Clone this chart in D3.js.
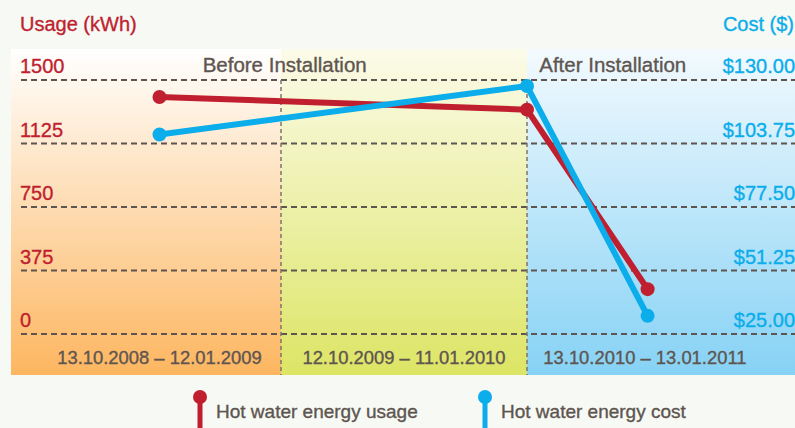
<!DOCTYPE html>
<html>
<head>
<meta charset="utf-8">
<script src="https://cdn.jsdelivr.net/npm/d3@7"></script>
<style>
body { margin: 0; background: #f7f9f4; }
svg { display: block; font-family: "Liberation Sans", Arial, sans-serif; }
svg text { paint-order: stroke; stroke-width: 0.35px; }
</style>
</head>
<body>
<script>
// periods (x positions in panel units: panel i spans i..i+1)
var periods = ["13.10.2008 \u2013 12.01.2009", "12.10.2009 \u2013 11.01.2010", "13.10.2010 \u2013 13.01.2011"];
var periodPos = [0.55, 1.5, 2.44];
var pointPos = [0.55, 2, 2.45];
var usage = [1400, 1325, 265];
var cost = [107.5, 127.5, 32.5];
var usageTicks = [0, 375, 750, 1125, 1500];
var costTicks = [25, 51.25, 77.5, 103.75, 130];
var phases = ["Before Installation", "After Installation"];
var phasePos = [1.015, 2.32];

var W = 795, H = 428;
var red = "#c01f2f", blue = "#0badea", grey = "#5e5550";

var svg = d3.select("body").append("svg").attr("width", W).attr("height", H);

var x = d3.scaleLinear().domain([0, 1, 2, 3]).range([11, 281, 527, 795]);
var yU = d3.scaleLinear().domain([0, 1500]).range([334, 80]);
var yC = d3.scaleLinear().domain([25, 130]).range([334, 80]);
var panelTop = 49, panelBottom = 375;

var defs = svg.append("defs");
var grads = [["#ffffff", "#fdb660"], ["#fbfbe9", "#dde565"], ["#f3fafe", "#86d2f5"]];
grads.forEach(function(g, i) {
  var lg = defs.append("linearGradient").attr("id", "g" + i)
    .attr("x1", 0).attr("y1", 0).attr("x2", 0).attr("y2", 1);
  lg.append("stop").attr("offset", "0%").attr("stop-color", g[0]);
  lg.append("stop").attr("offset", "100%").attr("stop-color", g[1]);
});

svg.selectAll("rect.panel").data([0, 1, 2]).enter().append("rect")
  .attr("x", function(d) { return x(d); })
  .attr("y", panelTop)
  .attr("width", function(d) { return x(d + 1) - x(d); })
  .attr("height", panelBottom - panelTop)
  .attr("fill", function(d) { return "url(#g" + d + ")"; });

// horizontal grid
svg.selectAll("line.grid").data(usageTicks).enter().append("line")
  .attr("x1", 21).attr("x2", W)
  .attr("y1", function(d) { return yU(d); })
  .attr("y2", function(d) { return yU(d); })
  .attr("stroke", grey).attr("stroke-width", 2).attr("stroke-dasharray", "6,4");

// vertical separators
svg.selectAll("line.sep").data([1, 2]).enter().append("line")
  .attr("x1", function(d) { return x(d); }).attr("x2", function(d) { return x(d); })
  .attr("y1", yU(1500)).attr("y2", panelBottom)
  .attr("stroke", "#7d746c").attr("stroke-width", 1.5).attr("stroke-dasharray", "4,3");

// axis titles
svg.append("text").attr("x", 20).attr("y", 31).attr("fill", red).attr("stroke", red)
  .attr("font-size", 20).text("Usage (kWh)");
svg.append("text").attr("x", 794).attr("y", 31).attr("fill", blue).attr("stroke", blue)
  .attr("font-size", 20).attr("text-anchor", "end").text("Cost ($)");

// tick labels
svg.selectAll("text.tu").data(usageTicks).enter().append("text")
  .attr("x", 20).attr("y", function(d) { return yU(d) - 7; })
  .attr("fill", red).attr("stroke", red).attr("font-size", 20)
  .text(function(d) { return d; });
svg.selectAll("text.tc").data(costTicks).enter().append("text")
  .attr("x", 795).attr("y", function(d) { return yC(d) - 7; })
  .attr("text-anchor", "end").attr("fill", blue).attr("stroke", blue).attr("font-size", 20)
  .text(function(d) { return "$" + d3.format(".2f")(d); });

// phase labels
svg.selectAll("text.ph").data(phases).enter().append("text")
  .attr("x", function(d, i) { return x(phasePos[i]); }).attr("y", 72)
  .attr("text-anchor", "middle").attr("fill", grey).attr("stroke", grey).attr("font-size", 20.5)
  .text(function(d) { return d; });

// period labels
svg.selectAll("text.pl").data(periods).enter().append("text")
  .attr("x", function(d, i) { return x(periodPos[i]); }).attr("y", 364)
  .attr("text-anchor", "middle").attr("fill", grey).attr("stroke", grey).attr("font-size", 18.4)
  .text(function(d) { return d; });

function series(vals, y, color) {
  var pts = vals.map(function(v, i) { return [x(pointPos[i]), y(v)]; });
  svg.append("path").attr("d", d3.line()(pts))
    .attr("fill", "none").attr("stroke", color).attr("stroke-width", 6)
    .attr("stroke-linejoin", "round");
  svg.selectAll(null).data(pts).enter().append("circle")
    .attr("cx", function(d) { return d[0]; }).attr("cy", function(d) { return d[1]; })
    .attr("r", 7).attr("fill", color);
}
series(usage, yU, red);
series(cost, yC, blue);

// legend
var legend = [["Hot water energy usage", red, 200], ["Hot water energy cost", blue, 485]];
legend.forEach(function(l) {
  svg.append("line").attr("x1", l[2]).attr("x2", l[2]).attr("y1", 398).attr("y2", H)
    .attr("stroke", l[1]).attr("stroke-width", 5);
  svg.append("circle").attr("cx", l[2]).attr("cy", 397).attr("r", 7).attr("fill", l[1]);
  svg.append("text").attr("x", l[2] + 16).attr("y", 418).attr("fill", grey).attr("stroke", grey)
    .attr("font-size", 19).text(l[0]);
});
</script>
</body>
</html>
